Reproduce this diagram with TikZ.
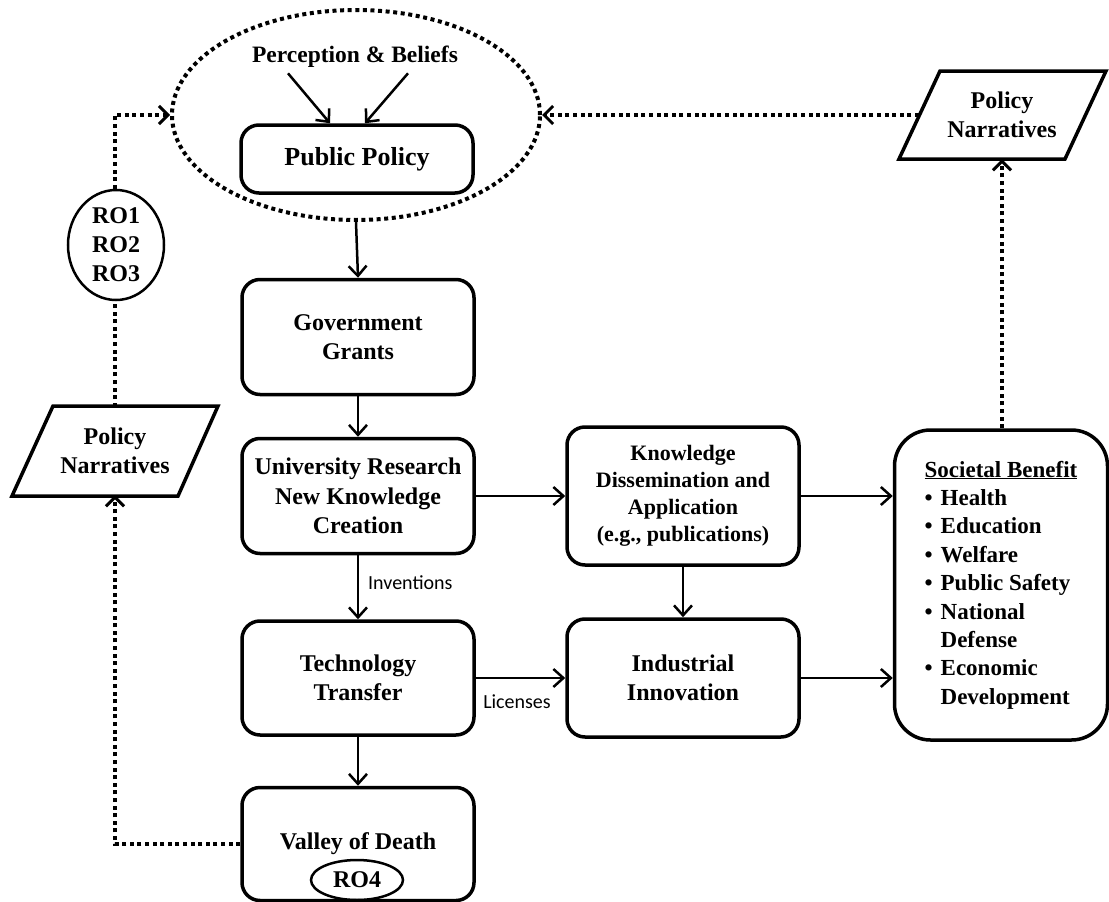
\documentclass[tikz,border=0pt]{standalone}
\usepackage{fontspec}
\setmainfont{Liberation Serif}
\newfontfamily\lblfont{Carlito}
\usetikzlibrary{arrows.meta,shapes.geometric,calc}

\begin{document}
\begin{tikzpicture}[x=1pt,y=-1pt,
  boxfont/.style={font=\bfseries\fontsize{24}{29.5}\selectfont},
  box/.style={draw,line width=3.5pt,rounded corners=18pt,align=center,
    minimum width=232pt,inner sep=0pt,boxfont},
  frame/.style={line width=3.5pt,line join=miter},
  oval/.style={draw,ellipse,line width=2.5pt,inner sep=0pt,align=center,boxfont},
  pntext/.style={align=center,inner sep=0pt,minimum width=130pt,minimum height=88pt,boxfont},
  arr/.style={line width=2.5pt,-{Straight Barb[length=10pt,width=18pt,line width=2.5pt]}},
  dotline/.style={line width=4pt,dash pattern=on 4pt off 3.6pt},
  dotarr/.style={dotline,-{Straight Barb[length=9pt,width=18pt,line width=3pt]}},
  lbl/.style={font=\lblfont\fontsize{20}{24}\selectfont,inner sep=0pt}
]
\useasboundingbox (0,0) rectangle (1109,902);

% policy formation loop
\node[draw,ellipse,dotline,minimum width=368pt,minimum height=210pt] (ell) at (356,115) {};
\node[font=\bfseries\fontsize{23.5}{27}\selectfont] (pb) at (355,57) {Perception \& Beliefs};
\node[box,minimum height=68pt,font=\bfseries\fontsize{26}{30}\selectfont] (pp) at (357,159) {Public Policy};
\draw[arr] ($(pb.south)+(-67,2)$) -- ($(pp.north)+(-27,0)$);
\draw[arr] ($(pb.south)+(53,2)$) -- ($(pp.north)+(8,0)$);

% main chain
\node[box,minimum height=115pt] (gov) at (358,337) {Government\\Grants};
\node[box,minimum height=115pt] (uni) at (358,496) {University Research\\New Knowledge\\Creation};
\node[box,minimum height=114pt] (tech) at (358,678) {Technology\\Transfer};
\node[box,minimum height=113pt] (vod) at (358,844) {Valley of Death};
\node[oval,minimum width=92pt,minimum height=40pt] (ro4) at (357,880) {RO4};

\node[box,minimum height=138pt,font=\bfseries\fontsize{22}{27}\selectfont] (know) at (683,496)
  {Knowledge\\Dissemination and\\Application\\(e.g., publications)};
\node[box,minimum height=118pt] (ind) at (683,678) {Industrial\\Innovation};

\node[draw,line width=3.5pt,rounded corners=36pt,minimum width=213pt,minimum height=310pt,
  inner sep=0pt,align=left,font=\bfseries\fontsize{23}{28.4}\selectfont] (soc) at (1001,585)
  {\underline{Societal Benefit}\\
   \makebox[16pt][l]{\textbullet}Health\\
   \makebox[16pt][l]{\textbullet}Education\\
   \makebox[16pt][l]{\textbullet}Welfare\\
   \makebox[16pt][l]{\textbullet}Public Safety\\
   \makebox[16pt][l]{\textbullet}National\\
   \makebox[16pt][l]{}Defense\\
   \makebox[16pt][l]{\textbullet}Economic\\
   \makebox[16pt][l]{}Development};

\draw[arr] (ell.south) -- (gov.north);
\draw[arr] (gov.south) -- (uni.north);
\draw[arr] (uni.south) -- (tech.north);
\draw[arr] (tech.south) -- (vod.north);
\draw[arr] (uni.east) -- (know.west);
\draw[arr] (know.south) -- (ind.north);
\draw[arr] (tech.east) -- (ind.west);
\draw[arr] (know.east) -- (soc.west |- know.east);
\draw[arr] (ind.east) -- (soc.west |- ind.east);

\node[lbl,anchor=west] (inv) at (368,583) {Inventions};
\node[lbl] (lic) at (517,702) {Licenses};

% policy narratives
\node[pntext] (pnL) at (115,451) {Policy\\Narratives};
\draw[frame] ($(pnL)+(-62,-45)$) -- ($(pnL)+(103,-45)$) -- ($(pnL)+(63,45)$)
  -- ($(pnL)+(-103,45)$) -- cycle;
\node[pntext] (pnR) at (1002,115) {Policy\\Narratives};
\draw[frame] ($(pnR)+(-62,-44)$) -- ($(pnR)+(104,-44)$) -- ($(pnR)+(63,44)$)
  -- ($(pnR)+(-103,44)$) -- cycle;
\coordinate (pnRleft) at ($(pnR)+(-83,0)$);

\node[oval,minimum width=96pt,minimum height=110pt,font=\bfseries\fontsize{24}{29}\selectfont] (ro) at (116,245) {RO1\\RO2\\RO3};

% feedback paths
\draw[dotarr] (vod.west) -| (pnL.south);
\draw[dotline] (pnL.north) -- (pnL.north |- ro.south);
\draw[dotarr] (pnL.north |- ro.north) |- (ell.west);
\draw[dotarr] (soc.north -| pnR.south) -- (pnR.south);
\draw[dotarr] (pnRleft) -- (ell.east);
\end{tikzpicture}
\end{document}
